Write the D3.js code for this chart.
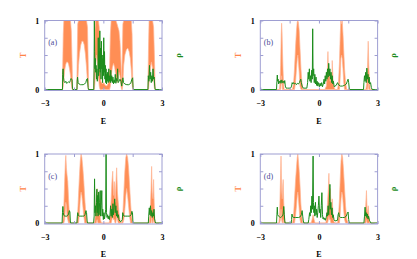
<!DOCTYPE html>
<html>
<head>
<meta charset="utf-8">
<script src="https://cdn.jsdelivr.net/npm/d3@7"></script>
<style>
  body { margin: 0; background: #fff; }
</style>
</head>
<body>
<div id="chart"></div>
<script>
// transmission T : [E, upper envelope, lower envelope]
const tA = [[-3,0,0],[-2.1,0,0],[-2.08,0.3,0],[-2.05,0.8,0.05],[-2.02,1,0.15],[-1.98,1,0.28],[-1.93,1,0.36],[-1.88,1,0.4],[-1.83,1,0.4],[-1.78,1,0.37],[-1.73,1,0.3],[-1.68,1,0.2],[-1.64,0.85,0.08],[-1.6,0.4,0],[-1.57,0,0],
  [-1.36,0,0],[-1.34,0.4,0],[-1.31,0.95,0.1],[-1.27,1,0.35],[-1.22,1,0.52],[-1.16,1,0.64],[-1.1,1,0.7],[-1.04,1,0.7],[-0.98,1,0.65],[-0.92,1,0.52],[-0.86,1,0.32],[-0.81,0.9,0.1],[-0.77,0.3,0],[-0.75,0,0],
  [-0.5,0,0],[-0.46,0.4,0],[-0.43,0.85,0.1],[-0.4,1,0.3],[-0.35,1,0.5],[-0.3,1,0.4],[-0.25,1,0.2],[-0.21,0.9,0.05],[-0.17,0.5,0],[-0.13,0.12,0],[-0.05,0.08,0],[0.02,0.1,0.01],[0.1,0.06,0],[0.18,0.05,0],[0.26,0.1,0],[0.32,0.3,0],[0.36,0.8,0.05],[0.4,1,0.2],[0.46,1,0.32],[0.52,1,0.38],[0.58,1,0.32],[0.64,1,0.2],[0.7,0.95,0.1],[0.75,0.9,0.15],[0.8,0.85,0.25],[0.85,0.7,0.2],[0.9,0.4,0.05],[0.94,0.15,0],[0.97,0.5,0],
  [1.0,0.95,0.1],[1.04,1,0.35],[1.1,1,0.5],[1.18,1,0.58],[1.25,1,0.6],[1.32,1,0.55],[1.38,1,0.45],[1.43,1,0.28],[1.47,0.8,0.08],[1.5,0.2,0],[1.53,0,0],
  [2.28,0,0],[2.31,0.6,0],[2.34,1,0.1],[2.4,1,0.3],[2.46,1,0.4],[2.52,1,0.3],[2.57,0.9,0.15],[2.61,0.5,0.02],[2.65,0,0],[3,0,0]];

const tB = [[-3,0,0],[-2.02,0,0],[-1.99,0.1,0],[-1.96,0.35,0],[-1.93,0.8,0.1],[-1.91,0.96,0.2],[-1.89,0.85,0.1],[-1.87,0.6,0],[-1.84,0.3,0],[-1.81,0.08,0],[-1.78,0,0],
  [-1.36,0,0],[-1.3,0.08,0],[-1.25,0.3,0],[-1.2,0.6,0.1],[-1.15,0.85,0.3],[-1.11,0.98,0.45],[-1.08,1,0.5],[-1.05,0.97,0.4],[-1.01,0.85,0.25],[-0.97,0.6,0.05],[-0.92,0.3,0],[-0.87,0.1,0],[-0.82,0,0],
  [0.3,0,0],[0.38,0.05,0],[0.42,0.2,0],[0.46,0.55,0],[0.49,0.2,0],[0.53,0.3,0],[0.57,0.12,0],[0.61,0.25,0],[0.65,0.1,0],[0.68,0.42,0],[0.72,0.15,0],[0.76,0.05,0],[0.82,0,0],
  [0.95,0,0],[1.0,0.1,0],[1.05,0.4,0],[1.09,0.8,0.2],[1.12,1,0.45],[1.16,0.95,0.5],[1.19,1,0.45],[1.23,0.8,0.3],[1.27,0.55,0.1],[1.31,0.3,0],[1.36,0.1,0],[1.42,0,0],
  [2.4,0,0],[2.45,0.1,0],[2.49,0.4,0],[2.52,0.7,0.1],[2.55,0.35,0],[2.58,0.15,0],[2.62,0,0],[3,0,0]];

const tC = [[-3,0,0],[-2.1,0,0],[-2.06,0.05,0],[-2.02,0.25,0],[-1.98,0.6,0.05],[-1.94,0.9,0.2],[-1.92,0.98,0.3],[-1.89,0.8,0.25],[-1.86,0.7,0.1],[-1.82,0.6,0.05],[-1.78,0.35,0],[-1.74,0.15,0],[-1.7,0,0],
  [-1.36,0,0],[-1.32,0.1,0],[-1.27,0.4,0],[-1.22,0.7,0.15],[-1.18,0.9,0.35],[-1.14,1,0.45],[-1.1,0.95,0.4],[-1.05,0.8,0.25],[-1.0,0.6,0.1],[-0.95,0.35,0],[-0.9,0.15,0],[-0.84,0,0],
  [-0.45,0,0],[-0.4,0.15,0],[-0.36,0.4,0],[-0.32,0.5,0.05],[-0.28,0.3,0],[-0.24,0.45,0],[-0.2,0.2,0],[-0.15,0.05,0],[-0.1,0,0],
  [0.3,0,0],[0.35,0.1,0],[0.4,0.35,0],[0.44,0.6,0.05],[0.48,0.75,0.1],[0.52,0.4,0.05],[0.56,0.6,0.05],[0.6,0.3,0],[0.64,0.55,0],[0.68,0.8,0.1],[0.72,0.45,0.05],[0.76,0.3,0],[0.8,0.15,0],[0.86,0.02,0],
  [0.95,0,0],[1.0,0.15,0],[1.05,0.45,0.05],[1.1,0.75,0.2],[1.15,0.95,0.4],[1.19,1,0.5],[1.24,0.95,0.4],[1.29,0.8,0.25],[1.34,0.55,0.1],[1.39,0.3,0],[1.44,0.1,0],[1.5,0,0],
  [2.35,0,0],[2.4,0.15,0],[2.44,0.5,0],[2.47,0.82,0.1],[2.5,0.45,0],[2.54,0.35,0],[2.57,0.63,0.05],[2.6,0.3,0],[2.63,0.05,0],[2.66,0,0],[3,0,0]];

const tD = [[-3,0,0],[-2.05,0,0],[-2.01,0.15,0],[-1.97,0.6,0.05],[-1.94,0.97,0.2],[-1.91,0.5,0.05],[-1.88,0.35,0],[-1.85,0.55,0],[-1.83,0.63,0.05],[-1.8,0.3,0],[-1.76,0.08,0],[-1.72,0,0],
  [-1.35,0,0],[-1.3,0.1,0],[-1.25,0.35,0],[-1.2,0.6,0.1],[-1.15,0.8,0.25],[-1.11,0.95,0.4],[-1.08,1,0.45],[-1.05,0.9,0.35],[-1.01,0.75,0.2],[-0.97,0.55,0.05],[-0.93,0.3,0],[-0.88,0.1,0],[-0.83,0,0],
  [-0.4,0,0],[-0.35,0.05,0],[-0.3,0.12,0],[-0.25,0.05,0],[-0.2,0,0],
  [0.35,0,0],[0.4,0.1,0],[0.44,0.3,0],[0.48,0.5,0.05],[0.51,0.72,0.1],[0.54,0.35,0.05],[0.58,0.5,0.05],[0.61,0.3,0],[0.64,0.2,0],[0.68,0.35,0],[0.72,0.12,0],[0.77,0.02,0],[0.82,0,0],
  [0.95,0,0],[1.0,0.1,0],[1.05,0.35,0],[1.09,0.65,0.15],[1.13,0.9,0.35],[1.17,1,0.45],[1.21,0.95,0.4],[1.26,0.75,0.2],[1.31,0.5,0.05],[1.36,0.25,0],[1.42,0.06,0],[1.48,0,0],
  [2.33,0,0],[2.37,0.1,0],[2.4,0.3,0],[2.43,0.47,0.05],[2.46,0.2,0],[2.49,0.15,0],[2.52,0.25,0],[2.56,0.08,0],[2.6,0,0],[3,0,0]];

// density of states rho : [E, value]
const rhoA = [[-3,0],[-2.09,0],[-2.08,0.22],[-2.06,0.3],[-2.04,0.18],[-2.01,0.12],[-1.97,0.1],[-1.92,0.12],[-1.88,0.09],[-1.83,0.1],[-1.78,0.11],[-1.73,0.1],[-1.69,0.13],[-1.65,0.16],[-1.6,0.14],[-1.58,0.02],[-1.56,0],
  [-1.35,0],[-1.34,0.12],[-1.32,0.18],[-1.29,0.1],[-1.24,0.08],[-1.17,0.07],[-1.1,0.07],[-1.03,0.07],[-0.96,0.08],[-0.9,0.1],[-0.85,0.15],[-0.81,0.16],[-0.78,0.03],[-0.76,0],
  [-0.49,0],[-0.475,0.3],[-0.46,1.0],[-0.445,0.55],[-0.43,0.3],[-0.41,0.45],[-0.39,0.25],[-0.37,0.35],[-0.35,0.15],[-0.33,0.3],[-0.31,0.12],[-0.28,0.2],[-0.26,0.75],[-0.24,0.2],[-0.22,0.55],[-0.2,0.3],[-0.18,0.85],[-0.16,0.25],[-0.14,0.6],[-0.12,0.15],[-0.1,0.7],[-0.08,0.3],[-0.06,0.5],[-0.04,0.1],[-0.02,0.45],[0,0.2],[0.02,0.75],[0.04,0.25],[0.06,0.55],[0.08,0.15],[0.1,0.35],[0.12,0.1],[0.14,0.3],[0.16,0.08],[0.18,0.22],[0.2,0.12],[0.22,0.25],[0.25,0.1],[0.28,0.3],[0.3,0.12],[0.33,0.2],
  [0.36,0.1],[0.38,0.28],[0.4,0.12],[0.43,0.2],[0.46,0.1],[0.49,0.18],[0.52,0.08],[0.55,0.14],[0.58,0.1],[0.61,0.22],[0.64,0.09],[0.67,0.16],[0.7,0.12],[0.73,0.3],[0.76,0.1],[0.8,0.12],[0.85,0.15],[0.9,0.12],[0.94,0.05],
  [0.98,0.15],[1.0,0.17],[1.03,0.1],[1.1,0.08],[1.2,0.07],[1.3,0.07],[1.4,0.09],[1.46,0.15],[1.5,0.17],[1.52,0.03],[1.54,0],
  [2.28,0],[2.3,0.2],[2.33,0.12],[2.36,0.35],[2.39,0.15],[2.42,0.25],[2.45,0.1],[2.48,0.2],[2.51,0.12],[2.54,0.3],[2.57,0.15],[2.6,0.18],[2.63,0.05],[2.65,0],[3,0]];

const rhoB = [[-3,0],[-2.17,0],[-2.15,0.12],[-2.13,0.21],[-2.11,0.12],[-2.09,0.15],[-2.06,0.08],[-2.03,0.12],[-2.0,0.1],[-1.97,0.13],[-1.94,0.09],[-1.9,0.14],[-1.86,0.1],[-1.82,0.12],[-1.78,0.09],[-1.75,0.13],[-1.72,0.05],[-1.68,0.02],
  [-1.6,0.02],[-1.45,0.02],[-1.4,0.05],[-1.37,0.1],[-1.34,0.08],[-1.3,0.1],[-1.25,0.08],[-1.2,0.09],[-1.15,0.07],[-1.1,0.09],[-1.05,0.08],[-1.0,0.1],[-0.96,0.13],[-0.93,0.15],[-0.9,0.1],[-0.86,0.05],[-0.8,0.02],[-0.62,0.02],
  [-0.58,0.1],[-0.55,0.25],[-0.52,0.15],[-0.49,0.3],[-0.46,0.12],[-0.43,0.2],[-0.4,0.1],[-0.37,0.28],[-0.34,0.15],[-0.32,0.88],[-0.3,0.2],[-0.27,0.3],[-0.24,0.1],[-0.21,0.22],[-0.18,0.08],[-0.15,0.18],[-0.12,0.06],[-0.09,0.12],[-0.06,0.05],[-0.02,0.1],[0.02,0.04],[0.06,0.09],[0.1,0.05],[0.14,0.1],[0.18,0.04],[0.22,0.08],[0.26,0.15],[0.29,0.08],[0.32,0.2],[0.35,0.12],[0.38,0.25],[0.41,0.15],[0.44,0.3],[0.47,0.18],[0.5,0.38],[0.53,0.2],[0.56,0.3],[0.59,0.15],[0.62,0.25],[0.65,0.1],[0.68,0.2],[0.71,0.08],[0.74,0.12],[0.78,0.04],
  [0.82,0.05],[0.88,0.06],[0.95,0.1],[1.0,0.07],[1.1,0.05],[1.2,0.05],[1.3,0.06],[1.4,0.08],[1.45,0.12],[1.49,0.15],[1.52,0.1],[1.55,0.02],[1.58,0],
  [2.28,0],[2.3,0.1],[2.33,0.2],[2.36,0.12],[2.39,0.25],[2.42,0.1],[2.45,0.31],[2.48,0.15],[2.51,0.22],[2.54,0.1],[2.57,0.18],[2.6,0.08],[2.64,0.1],[2.68,0.03],[2.72,0],[3,0]];

const rhoC = [[-3,0],[-2.11,0],[-2.09,0.15],[-2.07,0.24],[-2.05,0.15],[-2.02,0.11],[-1.97,0.1],[-1.92,0.1],[-1.87,0.1],[-1.82,0.11],[-1.78,0.13],[-1.74,0.18],[-1.71,0.16],[-1.69,0.03],[-1.67,0],
  [-1.35,0],[-1.33,0.1],[-1.31,0.15],[-1.28,0.11],[-1.22,0.1],[-1.15,0.1],[-1.08,0.1],[-1.0,0.1],[-0.94,0.12],[-0.89,0.18],[-0.86,0.15],[-0.83,0.03],[-0.81,0],
  [-0.5,0],[-0.47,0.1],[-0.45,0.64],[-0.43,0.15],[-0.4,0.25],[-0.38,0.1],[-0.35,0.3],[-0.33,0.49],[-0.31,0.15],[-0.29,0.4],[-0.27,0.1],[-0.24,0.45],[-0.22,0.12],[-0.19,0.3],[-0.16,0.47],[-0.14,0.1],[-0.11,0.25],[-0.08,0.47],[-0.06,0.1],[-0.03,0.2],[0,0.05],[0.03,0.15],[0.06,0.06],[0.09,0.12],[0.12,0.2],[0.14,1.0],[0.16,0.15],[0.19,0.08],[0.22,0.12],[0.25,0.06],[0.28,0.1],[0.31,0.05],
  [0.34,0.12],[0.37,0.25],[0.4,0.1],[0.43,0.2],[0.46,0.08],[0.49,0.28],[0.52,0.12],[0.55,0.22],[0.58,0.35],[0.61,0.15],[0.64,0.25],[0.67,0.1],[0.7,0.18],[0.73,0.08],[0.77,0.12],[0.8,0.05],[0.84,0.03],[0.9,0.02],
  [0.97,0.05],[0.99,0.15],[1.02,0.12],[1.06,0.1],[1.15,0.1],[1.25,0.1],[1.35,0.1],[1.42,0.12],[1.46,0.17],[1.49,0.15],[1.51,0.03],[1.53,0],
  [2.3,0],[2.32,0.1],[2.35,0.22],[2.38,0.12],[2.41,0.25],[2.44,0.1],[2.47,0.18],[2.5,0.08],[2.53,0.15],[2.56,0.1],[2.59,0.2],[2.62,0.06],[2.65,0.02],[2.68,0],[3,0]];

const rhoD = [[-3,0],[-2.17,0],[-2.15,0.12],[-2.13,0.23],[-2.11,0.12],[-2.07,0.1],[-2.02,0.09],[-1.97,0.08],[-1.92,0.09],[-1.87,0.1],[-1.83,0.13],[-1.8,0.24],[-1.77,0.12],[-1.75,0.03],[-1.73,0],
  [-1.42,0],[-1.4,0.05],[-1.38,0.13],[-1.35,0.09],[-1.28,0.08],[-1.2,0.08],[-1.12,0.08],[-1.04,0.08],[-0.96,0.09],[-0.9,0.12],[-0.86,0.18],[-0.83,0.1],[-0.8,0.03],[-0.77,0],
  [-0.55,0],[-0.52,0.05],[-0.48,0.15],[-0.45,0.1],[-0.42,0.25],[-0.39,0.15],[-0.36,0.39],[-0.33,0.2],[-0.3,0.97],[-0.28,0.3],[-0.26,0.15],[-0.24,0.25],[-0.21,0.1],[-0.18,0.3],[-0.15,0.12],[-0.12,0.2],[-0.09,0.08],[-0.06,0.15],[-0.03,0.25],[0,0.39],[0.03,0.15],[0.06,0.2],[0.09,0.08],[0.12,0.25],[0.15,0.44],[0.18,0.12],[0.21,0.06],[0.24,0.08],[0.27,0.05],[0.3,0.07],[0.33,0.04],[0.37,0.08],[0.41,0.15],[0.44,0.1],[0.47,0.25],[0.5,0.12],[0.53,0.3],[0.56,0.56],[0.58,0.2],[0.61,0.3],[0.64,0.12],[0.67,0.22],[0.7,0.08],[0.73,0.12],[0.77,0.05],[0.82,0.03],
  [0.95,0.04],[0.98,0.12],[1.01,0.15],[1.04,0.1],[1.1,0.08],[1.2,0.08],[1.3,0.08],[1.4,0.1],[1.45,0.14],[1.49,0.16],[1.52,0.05],[1.55,0],
  [2.3,0],[2.33,0.1],[2.36,0.23],[2.39,0.1],[2.42,0.15],[2.45,0.08],[2.48,0.13],[2.51,0.06],[2.54,0.1],[2.58,0.04],[2.62,0.02],[2.66,0],[3,0]];

const panelLabels = ["(a)", "(b)", "(c)", "(d)"];
const xTicks = [-3, -1.5, 0, 1.5, 3];
const xTickLabels = { "-3": "\u22123", "0": "0", "3": "3" };
const yTicks = [0, 0.25, 0.5, 0.75, 1];
const yTickLabels = { "0": "0", "1": "1" };

const W = 417, H = 259;
const pw = 117.3, ph = 70;
const serif = "'Liberation Serif', 'DejaVu Serif', serif";
const frameColor = "#9e9ed2";
const orange = "#ff8446", orangeLight = "#ffb494", green = "#1c8c1c";

const panels = [
  { label: panelLabels[0], T: tA, rho: rhoA, left: 44.7, top: 20.5 },
  { label: panelLabels[1], T: tB, rho: rhoB, left: 260.3, top: 20.5 },
  { label: panelLabels[2], T: tC, rho: rhoC, left: 44.7, top: 154 },
  { label: panelLabels[3], T: tD, rho: rhoD, left: 260.3, top: 154 }
];

const svg = d3.select("#chart").append("svg")
  .attr("width", W).attr("height", H);

panels.forEach((p, i) => {
  const x = d3.scaleLinear().domain([-3, 3]).range([0, pw]);
  const y = d3.scaleLinear().domain([-0.014, 1]).range([ph, 0]);

  const g = svg.append("g").attr("transform", `translate(${p.left},${p.top})`);

  g.append("clipPath").attr("id", "clip" + i)
    .append("rect").attr("width", pw).attr("height", ph);

  const plot = g.append("g").attr("clip-path", `url(#clip${i})`);

  plot.append("path").datum(p.T)
    .attr("fill", orange).attr("fill-opacity", 0.92)
    .attr("d", d3.area().x(d => x(d[0])).y0(d => y(d[2])).y1(d => y(d[1])));
  plot.append("path").datum(p.T)
    .attr("fill", "none").attr("stroke", orangeLight).attr("stroke-width", 0.7)
    .attr("d", d3.line().x(d => x(d[0])).y(d => y(d[1])));
  plot.append("path").datum(p.T)
    .attr("fill", "none").attr("stroke", orangeLight).attr("stroke-width", 0.7)
    .attr("d", d3.line().x(d => x(d[0])).y(d => y(d[2])));

  plot.append("path").datum(p.rho)
    .attr("fill", "none").attr("stroke", green).attr("stroke-width", 1)
    .attr("stroke-linejoin", "round")
    .attr("d", d3.line().x(d => x(d[0])).y(d => y(d[1])));

  // axes: inward ticks, labels only on some
  const axB = g.append("g").attr("transform", `translate(0,${ph})`)
    .call(d3.axisBottom(x).tickValues(xTicks).tickSizeInner(-3).tickSizeOuter(0).tickPadding(10)
      .tickFormat(d => xTickLabels[String(d)] || ""));
  const axT = g.append("g")
    .call(d3.axisTop(x).tickValues(xTicks).tickSizeInner(-3).tickSizeOuter(0).tickFormat(""));
  const axL = g.append("g")
    .call(d3.axisLeft(y).tickValues(yTicks).tickSizeInner(-3).tickSizeOuter(0).tickPadding(5.5)
      .tickFormat(d => yTickLabels[String(d)] || ""));
  const axR = g.append("g").attr("transform", `translate(${pw},0)`)
    .call(d3.axisRight(y).tickValues(yTicks).tickSizeInner(-3).tickSizeOuter(0).tickFormat(""));

  [axB, axT, axL, axR].forEach(a => {
    a.attr("font-family", serif);
    a.select(".domain").remove();
    a.selectAll("line").attr("stroke", frameColor);
    a.selectAll("text").attr("font-weight", "bold").attr("font-size", 8).attr("fill", "#000");
  });
  axL.selectAll("text").attr("dy", "0.35em");

  g.append("rect").attr("width", pw).attr("height", ph)
    .attr("fill", "none").attr("stroke", frameColor).attr("stroke-width", 1);

  g.append("text").attr("x", 3.5).attr("y", 24.5)
    .attr("font-family", serif).attr("font-size", 8).attr("fill", "#4a4a96").text(p.label);

  g.append("text")
    .attr("transform", `translate(-19,${ph / 2}) rotate(-90)`)
    .attr("text-anchor", "middle").attr("font-family", serif).attr("font-size", 8.5).attr("font-weight", "bold")
    .attr("fill", orange).text("T");

  g.append("text")
    .attr("transform", `translate(${pw + 18.5},${ph / 2}) rotate(-90)`)
    .attr("text-anchor", "middle").attr("font-family", serif).attr("font-size", 8.5).attr("font-weight", "bold")
    .attr("fill", green).text("\u03c1");

  g.append("text").attr("x", pw / 2).attr("y", ph + 33)
    .attr("text-anchor", "middle").attr("font-family", serif).attr("font-size", 8).attr("font-weight", "bold")
    .text("E");
});
</script>
</body>
</html>
